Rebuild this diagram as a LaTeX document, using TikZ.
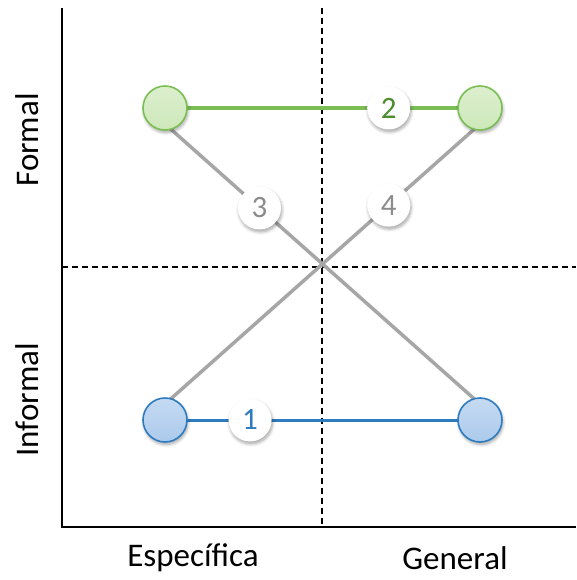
\documentclass[tikz,border=0pt]{standalone}
\usepackage{fontspec}
\setmainfont{Carlito}
\usetikzlibrary{shadows.blur}
\definecolor{fgreen}{RGB}{122,190,84}
\definecolor{fgreenfill}{RGB}{205,232,185}
\definecolor{fgreentext}{RGB}{76,140,44}
\definecolor{fblue}{RGB}{46,124,192}
\definecolor{fbluefill}{RGB}{172,202,236}
\definecolor{fgray}{RGB}{166,166,166}
\definecolor{fgraytext}{RGB}{140,140,140}
\tikzset{
  softshadow/.style={blur shadow={shadow blur steps=6,shadow xshift=1pt,shadow yshift=-2.5pt,
    shadow blur radius=3pt,shadow opacity=35}},
  greendot/.style={circle,draw=fgreen,line width=1.6pt,minimum size=44pt,inner sep=0pt,
    top color=fgreenfill!70!white,bottom color=fgreenfill,softshadow},
  bluedot/.style={circle,draw=fblue,line width=1.6pt,minimum size=44pt,inner sep=0pt,
    top color=fbluefill!70!white,bottom color=fbluefill,softshadow},
  tag/.style={circle,fill=white,minimum size=43pt,inner sep=0pt,font=\fontsize{31}{33}\selectfont,
    softshadow},
  guide/.style={black,line width=1.4pt,dash pattern=on 6pt off 4pt},
  axislabel/.style={font=\fontsize{33}{35}\selectfont}
}
\begin{document}
\begin{tikzpicture}[x=1pt,y=-1pt]
  \useasboundingbox (0,0) rectangle (576,580);
  % axes and quadrant guides
  \coordinate (top) at (62,8);
  \coordinate (origin) at (62,527);
  \coordinate (right) at (576,527);
  \coordinate (vtop) at (322,8);
  \coordinate (vbot) at (322,527);
  \coordinate (hleft) at (62,267);
  \coordinate (hright) at (576,267);
  \draw[guide] (vtop) -- (vbot);
  \draw[guide] (hleft) -- (hright);
  \draw[black,line width=1.6pt] (top) -- (origin) -- (right);
  % axis labels
  \node[axislabel,rotate=90] (formal) at (27,140) {Formal};
  \node[axislabel,rotate=90] (informal) at (27,400) {Informal};
  \node[axislabel] (esp) at (193,558) {Específica};
  \node[axislabel] (gen) at (455,558) {General};
  % connectors
  \coordinate (gl) at (165,108);
  \coordinate (gr) at (480,108);
  \coordinate (bl) at (165,420);
  \coordinate (br) at (480,420);
  \begin{scope}[line width=3.5pt]
    \draw[fgray] ([yshift=-16pt]gl) to node[tag,text=fgraytext,pos=0.3] (t3) {3} ([yshift=16pt]br);
    \draw[fgray] ([yshift=16pt]bl) to node[tag,text=fgraytext,pos=0.71] (t4) {4} ([yshift=-16pt]gr);
    \draw[fgreen] (gl) to node[tag,text=fgreentext,pos=0.71] (t2) {2} (gr);
    \draw[fblue,line width=3pt] (bl) to node[tag,text=fblue,pos=0.27] (t1) {1} (br);
  \end{scope}
  % dots
  \node[greendot] (g1) at (gl) {};
  \node[greendot] (g2) at (gr) {};
  \node[bluedot] (b1) at (bl) {};
  \node[bluedot] (b2) at (br) {};
\end{tikzpicture}
\end{document}
